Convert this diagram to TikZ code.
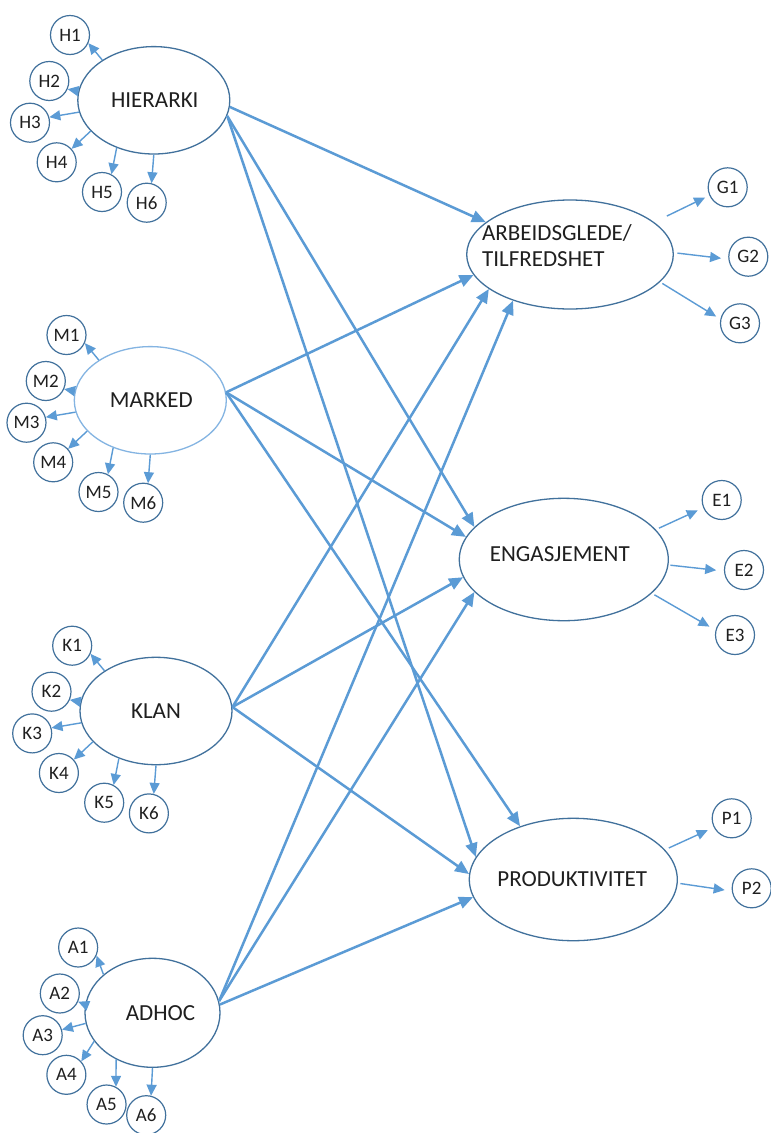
\documentclass[tikz,border=0pt]{standalone}
\usepackage{fontspec}
\setmainfont{Carlito}
\usetikzlibrary{shapes.geometric,arrows.meta}
\definecolor{ellc}{HTML}{41719C}
\definecolor{ellm}{HTML}{84B4E2}
\definecolor{arrc}{HTML}{5B9BD5}
\definecolor{txt}{HTML}{1F1F1F}
\newcommand\bigfnt{\fontsize{23}{26}\selectfont}
\newcommand\smallfnt{\fontsize{19}{22}\selectfont}
% text placed with zero-size box: #1 horizontal shift, #2 baseline shift
\newcommand\mylbl[3]{\raisebox{#2}[0pt][0pt]{\makebox[0pt]{\hspace*{#1}#3\hspace*{-#1}}}}
\tikzset{
  latent/.style={ellipse, line width=1.3pt, inner sep=0pt, font=\bigfnt, text=txt},
  ind/.style={circle, draw=ellc, line width=1.2pt, inner sep=0pt, minimum size=39pt, font=\smallfnt, text=txt},
  bigarr/.style={draw=arrc, line width=2.5pt, -{Triangle[length=14pt,width=12pt]}},
  smallarr/.style={draw=arrc, line width=1.4pt, -{Triangle[length=11pt,width=10pt]}},
}
% #1 name, #2 centre, #3 xscale, #4 width, #5 height, #6 label, #7 prefix, #8 outline colour
\newcommand\latcluster[8]{%
  \begin{scope}[shift={#2}, xscale=#3]
    \node[latent, draw=#8, minimum width=#4, minimum height=#5] (#1) at (0,0) {#6};
    \node[ind] (#1a) at (-83.8,-65.3) {#71};
    \node[ind] (#1b) at (-104.5,-19.3) {#72};
    \node[ind] (#1c) at (-123.8,22.4) {#73};
    \node[ind] (#1d) at (-97.1,62) {#74};
    \node[ind] (#1e) at (-51.8,91.7) {#75};
    \node[ind] (#1f) at (-7.1,102.4) {#76};
  \end{scope}
  \draw[smallarr] (#1.142) -- (#1a.-24);
  \draw[smallarr] (#1.173) -- (#1b.-24);
  \draw[smallarr] (#1.189) -- (#1c.16);
  \draw[smallarr] (#1.206) -- (#1d.42);
  \draw[smallarr] (#1.232) -- (#1e.62);
  \draw[smallarr] (#1.270) -- (#1f.76);
}
\begin{document}
\begin{tikzpicture}[x=1pt,y=-1pt]
\path[use as bounding box, fill=white] (0,0) rectangle (771,1133);

\latcluster{hier}{(153.8,100.3)}{1}{152pt}{107.4pt}{\mylbl{1pt}{-7.3pt}{HIERARKI}}{H}{ellc}
\latcluster{mark}{(150.3,400.3)}{1}{152pt}{107.4pt}{\mylbl{1pt}{-7.3pt}{MARKED}}{M}{ellm}
\latcluster{klan}{(156,711)}{1}{152pt}{107.4pt}{\mylbl{0pt}{-7.3pt}{KLAN}}{K}{ellc}
\latcluster{adhoc}{(152.5,1012.8)}{0.887}{135pt}{109pt}{\mylbl{8pt}{-7.3pt}{ADHOC}}{A}{ellc}

% outcome constructs
\node[latent, draw=ellc, minimum width=206.6pt, minimum height=109pt] (arb) at (570,254.5)
  {\mylbl{-13pt}{-11.5pt}{\begin{tabular}[b]{@{}l@{}}ARBEIDSGLEDE/\\TILFREDSHET\end{tabular}}};
\node[latent, draw=ellc, minimum width=209pt, minimum height=122.4pt] (eng) at (563.8,559.5)
  {\mylbl{-4pt}{-1.9pt}{ENGASJEMENT}};
\node[latent, draw=ellc, minimum width=208pt, minimum height=122.4pt] (prod) at (573.3,879.5)
  {\mylbl{-1pt}{-7.3pt}{PRODUKTIVITET}};

\node[ind] (g1) at (727.7,187.3) {G1};
\node[ind] (g2) at (748.3,256.7) {G2};
\node[ind] (g3) at (740,323.3) {G3};
\node[ind] (e1) at (721.7,500) {E1};
\node[ind] (e2) at (744,570) {E2};
\node[ind] (e3) at (735,635) {E3};
\node[ind] (p1) at (731.7,818.3) {P1};
\node[ind] (p2) at (751.7,888.3) {P2};

\draw[smallarr, shorten <=14pt, shorten >=4.7pt] (arb.21) -- (g1.204);
\draw[smallarr, shorten <=3.6pt, shorten >=7.3pt] (arb.1) -- (g2.187);
\draw[smallarr, shorten <=2.7pt, shorten >=4.9pt] (arb.-17) -- (g3.168);
\draw[smallarr, shorten <=3.5pt, shorten >=6pt] (eng.18) -- (e1.203);
\draw[smallarr, shorten <=1.8pt, shorten >=7.8pt] (eng.-3) -- (e2.183);
\draw[smallarr, shorten <=3pt, shorten >=7pt] (eng.-21) -- (e3.166);
\draw[smallarr, shorten <=4.2pt, shorten >=6.7pt] (prod.18) -- (p1.207);
\draw[smallarr, shorten <=2.7pt, shorten >=7.2pt] (prod.-2) -- (p2.188);

% structural paths
\draw[bigarr] (hier.-5) -- (arb.159);
\draw[bigarr] (hier.-12) -- (eng.160);
\draw[bigarr] (hier.-12) -- (prod.167);
\draw[bigarr] (mark.6) -- (arb.192);
\draw[bigarr] (mark.6) -- (eng.167);
\draw[bigarr] (mark.6) -- (prod.135);
\draw[bigarr] (klan.3) -- (arb.203);
\draw[bigarr] (klan.3) -- (eng.190);
\draw[bigarr] (klan.3) -- (prod.177);
\draw[bigarr] (adhoc.10) -- (arb.219);
\draw[bigarr] (adhoc.10) -- (eng.200);
\draw[bigarr] (adhoc.7) -- (prod.190);
\end{tikzpicture}
\end{document}
